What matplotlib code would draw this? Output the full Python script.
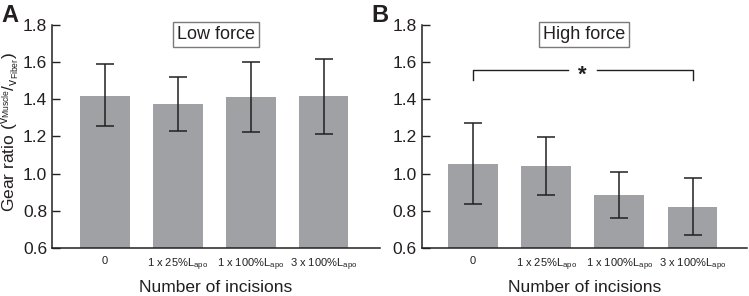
import matplotlib
matplotlib.use("Agg")
import matplotlib.pyplot as plt
import numpy as np

plt.rcParams['font.family'] = ['Liberation Sans', 'DejaVu Sans']
plt.rcParams['mathtext.fontset'] = 'custom'
plt.rcParams['mathtext.rm'] = 'Liberation Sans'
plt.rcParams['mathtext.it'] = 'Liberation Sans'

categories = ["0", "1 x 25%L$_{\\mathregular{apo}}$", "1 x 100%L$_{\\mathregular{apo}}$", "3 x 100%L$_{\\mathregular{apo}}$"]
low_mean = [1.42, 1.377, 1.41, 1.415]
low_lo = [1.257, 1.232, 1.223, 1.214]
low_hi = [1.589, 1.522, 1.60, 1.619]
high_mean = [1.053, 1.041, 0.885, 0.822]
high_lo = [0.838, 0.886, 0.761, 0.67]
high_hi = [1.27, 1.195, 1.01, 0.978]
yticks = [0.6, 0.8, 1.0, 1.2, 1.4, 1.6, 1.8]

txt = '#231f20'
barc = '#a0a1a4'
fig = plt.figure(figsize=(7.49, 2.96), dpi=100)
axA = fig.add_axes([0.0694, 0.162, 0.507 - 0.0694, 0.754])
axB = fig.add_axes([0.563, 0.162, 0.997 - 0.563, 0.754])

def draw(ax, mean, lo, hi, title, xlim):
    x = np.arange(len(mean))
    m = np.array(mean)
    yerr = [m - np.array(lo), np.array(hi) - m]
    ax.bar(x, m - 0.6, bottom=0.6, width=0.68, color=barc, zorder=1)
    ax.errorbar(x, m, yerr=yerr, fmt='none', ecolor=txt, elinewidth=1.1,
                capsize=6.3, capthick=1.1, zorder=2)
    ax.set_ylim(0.6, 1.8)
    ax.set_xlim(*xlim)
    ax.set_yticks(yticks)
    ax.set_yticklabels([f"{v:.1f}" for v in yticks])
    ax.set_xticks(x)
    ax.set_xticklabels(categories, fontsize=8, color=txt)
    ax.tick_params(axis='y', direction='in', length=6, width=1, labelsize=12.5,
                   colors=txt, pad=3.5)
    ax.tick_params(axis='x', length=0, pad=6)
    for s in ['top', 'right']:
        ax.spines[s].set_visible(False)
    for s in ['left', 'bottom']:
        ax.spines[s].set_linewidth(1.1)
        ax.spines[s].set_color(txt)
    ax.set_xlabel("Number of incisions", fontsize=12.5, color=txt, labelpad=5)
    ax.text(0.5, 0.955, title, transform=ax.transAxes, ha='center', va='center',
            fontsize=13, color=txt,
            bbox=dict(boxstyle='square,pad=0.22', facecolor='white', edgecolor='#7a7a7a', linewidth=1))

draw(axA, low_mean, low_lo, low_hi, "Low force", (-0.73, 3.77))
draw(axB, high_mean, high_lo, high_hi, "High force", (-0.70, 3.74))
fig.text(11 / 749, 0.555, "Gear ratio ($^{\\mathregular{v_{Muscle}}}/_{\\mathregular{v_{Fiber}}}$)",
         fontsize=12.5, color=txt, rotation=90, ha='center', va='center')

# significance bracket
y0, y1 = 1.505, 1.556
axB.plot([0, 0, 1.3], [y0, y1, y1], color=txt, lw=1)
axB.plot([1.7, 3, 3], [y1, y1, y0], color=txt, lw=1)
axB.text(1.5, y1 - 0.025, "*", ha='center', va='center', fontsize=16, color=txt, fontweight='bold')

fig.text(0.002, 0.985, "A", fontsize=17, fontweight='bold', color=txt, va='top')
fig.text(0.496, 0.985, "B", fontsize=17, fontweight='bold', color=txt, va='top')

fig.savefig("out.png", dpi=100)
